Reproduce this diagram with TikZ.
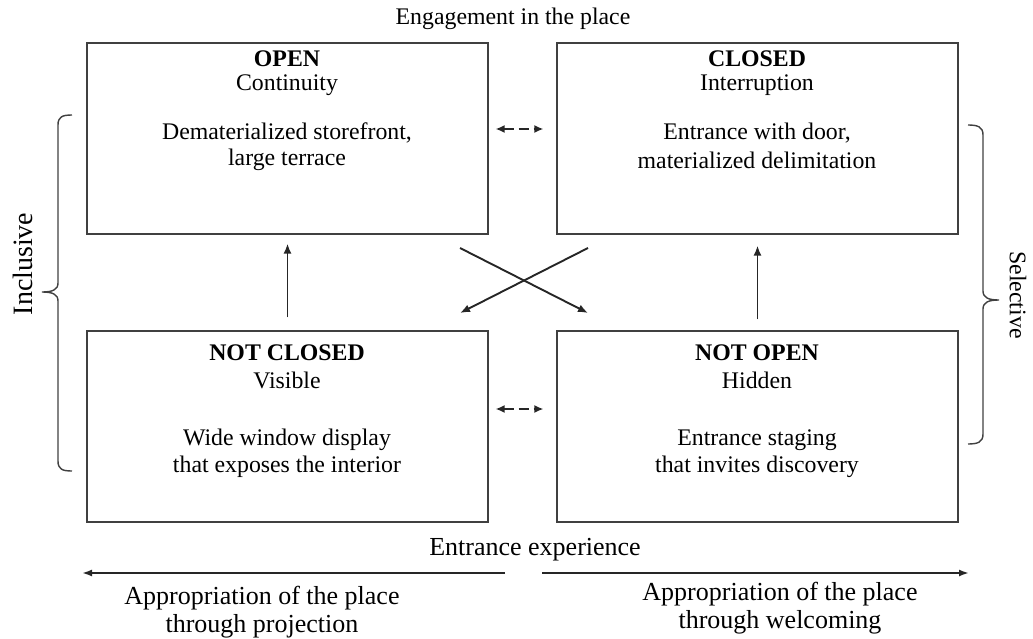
\documentclass[tikz,border=0pt]{standalone}
\usepackage{fontspec}
\setmainfont{Liberation Serif}
\usetikzlibrary{arrows.meta}
\begin{document}
\begin{tikzpicture}[x=1pt,y=-1pt,
  box/.style={draw=black!75,line width=1.1pt,minimum width=401pt,minimum height=191pt,inner sep=0pt},
  txt/.style={inner sep=0pt,font=\fontsize{23.8}{28}\selectfont},
  btxt/.style={txt,font=\fontsize{23.8}{28}\selectfont\bfseries},
  otxt/.style={inner sep=0pt,font=\fontsize{23.8}{28}\selectfont},
  ltxt/.style={inner sep=0pt,font=\fontsize{26}{31}\selectfont},
  arr/.style={draw=black!85,line width=1.9pt,-{Latex[length=10pt,width=8pt]}},
  darr/.style={draw=black!85,line width=1.9pt,{Latex[length=9pt,width=8pt]}-{Latex[length=9pt,width=8pt]},dash pattern=on 10pt off 5pt},
  brc/.style={draw=black!75,line width=1.4pt}]
\useasboundingbox (0,0) rectangle (1033,639);
% boxes
\node[box] (tl) at (287.5,138.5) {};
\node[box] (tr) at (757.5,138.5) {};
\node[box] (bl) at (287.5,426.5) {};
\node[box] (br) at (757.5,426.5) {};
% title texts
\node[otxt] (top) at (513,19) {Engagement in the place};
\node[ltxt] (bot) at (535,550) {Entrance experience};
% box texts
\node[btxt] (t1) at (287,59) {OPEN};
\node[txt] (t2) at (287,85) {Continuity};
\node[txt] (t3) at (287,133) {Dematerialized storefront,};
\node[txt] (t4) at (287,160) {large terrace};
\node[btxt] (r1) at (757,59) {CLOSED};
\node[txt] (r2) at (757,85) {Interruption};
\node[txt] (r3) at (757,133) {Entrance with door,};
\node[txt] (r4) at (757,160) {materialized delimitation};
\node[btxt] (b1) at (287,353) {NOT CLOSED};
\node[txt] (b2) at (287,380) {Visible};
\node[txt] (b3) at (287,440) {Wide window display};
\node[txt] (b4) at (287,467) {that exposes the interior};
\node[btxt] (s1) at (757,353) {NOT OPEN};
\node[txt] (s2) at (757,380) {Hidden};
\node[txt] (s3) at (757,440) {Entrance staging};
\node[txt] (s4) at (757,467) {that invites discovery};
% side labels
\node[inner sep=0pt,font=\fontsize{28}{33}\selectfont,rotate=90] (incl) at (23,264) {Inclusive};
\node[otxt,rotate=-90] (sel) at (1018,295) {Selective};
% bottom labels
\node[ltxt] (la1) at (262,598) {Appropriation of the place};
\node[ltxt] (la2) at (262,626) {through projection};
\node[ltxt] (ra1) at (780,594) {Appropriation of the place};
\node[ltxt] (ra2) at (780,622) {through welcoming};
% braces
\draw[brc] (72,115) .. controls (62,115) and (58,117) .. (58,125) -- (58,283)
  .. controls (58,290) and (52,292) .. (42,292) .. controls (52,292) and (58,294) .. (58,301)
  -- (58,461) .. controls (58,469) and (62,471) .. (72,471);
\draw[brc] (968,125) .. controls (978,125) and (983,127) .. (983,135) -- (983,291)
  .. controls (983,298) and (989,300) .. (999,300) .. controls (989,300) and (983,302) .. (983,309)
  -- (983,434) .. controls (983,442) and (978,444) .. (968,444);
% vertical arrows
\draw[arr,shorten <=13pt,shorten >=9pt] (bl.north) -- (tl.south);
\draw[arr,shorten <=11pt,shorten >=11pt] (br.north) -- (tr.south);
% dashed arrows
\draw[darr,shorten <=7pt,shorten >=13pt] ([yshift=9.5pt]tl.east) -- ([yshift=9.5pt]tr.west);
\draw[darr,shorten <=7pt,shorten >=13pt] ([yshift=17.5pt]bl.east) -- ([yshift=17.5pt]br.west);
% crossing arrows
\coordinate (c1) at (460,248);
\coordinate (c2) at (588,313);
\coordinate (c3) at (588,248);
\coordinate (c4) at (460,313);
\draw[arr] (c1) -- (c2);
\draw[arr] (c3) -- (c4);
% bottom arrows
\coordinate (la) at (505,573);
\coordinate (lb) at (82,573);
\coordinate (ra) at (542,573);
\coordinate (rb) at (969,573);
\draw[arr,-{Latex[length=10pt,width=7pt]}] (la) -- (lb);
\draw[arr,-{Latex[length=10pt,width=7pt]}] (ra) -- (rb);
\end{tikzpicture}
\end{document}
